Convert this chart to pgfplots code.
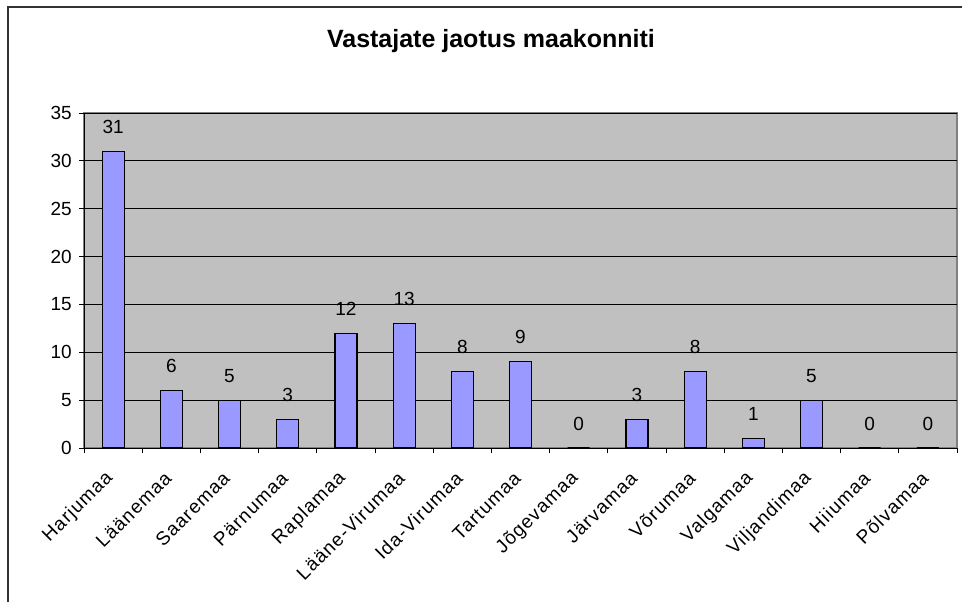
\documentclass[border=0pt]{standalone}
\usepackage{pgfplots}
\pgfplotsset{compat=1.18}
\usepackage{fontspec}
\setmainfont{Liberation Sans}
\definecolor{plotgray}{HTML}{C0C0C0}
\definecolor{barblue}{HTML}{9999FF}
\definecolor{framegray}{HTML}{808080}
\definecolor{bordergray}{HTML}{333333}
\begin{document}
\begin{tikzpicture}
\path[use as bounding box] (-84bp,-154bp) rectangle (878bp,448bp);
\draw[bordergray, line width=2bp] (-75.5bp,-200bp) -- (-75.5bp,440.5bp) -- (900bp,440.5bp);
\node[font=\bfseries\fontsize{25bp}{29bp}\selectfont, anchor=base] at (407bp,400bp) {Vastajate jaotus maakonniti};
\begin{axis}[
  at={(0bp,0bp)}, anchor=south west,
  width=873bp, height=335bp, scale only axis,
  xmin=-0.5, xmax=14.5, ymin=0, ymax=35,
  ytick={0,5,...,35},
  xtick={0,...,14},
  xticklabels={Harjumaa,Läänemaa,Saaremaa,Pärnumaa,Raplamaa,Lääne-Virumaa,Ida-Virumaa,Tartumaa,Jõgevamaa,Järvamaa,Võrumaa,Valgamaa,Viljandimaa,Hiiumaa,Põlvamaa},
  minor xtick={-0.5,0.5,...,14.5},
  major x tick style={draw=none},
  minor x tick style={black, line width=0.8bp},
  minor tick length=5bp,
  major tick length=5bp,
  tick align=outside,
  y tick style={black, line width=0.8bp},
  ymajorgrids,
  major grid style={black, line width=0.8bp},
  axis line style={black, line width=0.8bp},
  axis background/.style={fill=plotgray, draw=framegray, line width=1.2bp},
  axis x line*=bottom, axis y line*=left,
  tick label style={font=\fontsize{19bp}{22bp}\selectfont},
  /pgf/number format/assume math mode=true,
  yticklabel style={anchor=east, inner sep=0pt, xshift=-7bp},
  xticklabel style={inner sep=0pt, xshift=-3bp, yshift=-22bp, rotate=45, anchor=east,
    font=\fontsize{19bp}{22bp}\selectfont\addfontfeature{LetterSpace=6}},
  clip=false,
]
\addplot[ybar, bar width=22bp, fill=barblue, draw=black, line width=1.2bp,
  nodes near coords,
  every node near coord/.append style={font=\fontsize{19bp}{22bp}\selectfont, black, anchor=base, inner sep=0pt, yshift=18bp}]
coordinates {(0,31) (1,6) (2,5) (3,3) (4,12) (5,13) (6,8) (7,9) (8,0) (9,3) (10,8) (11,1) (12,5) (13,0) (14,0)};
\end{axis}
\end{tikzpicture}
\end{document}
